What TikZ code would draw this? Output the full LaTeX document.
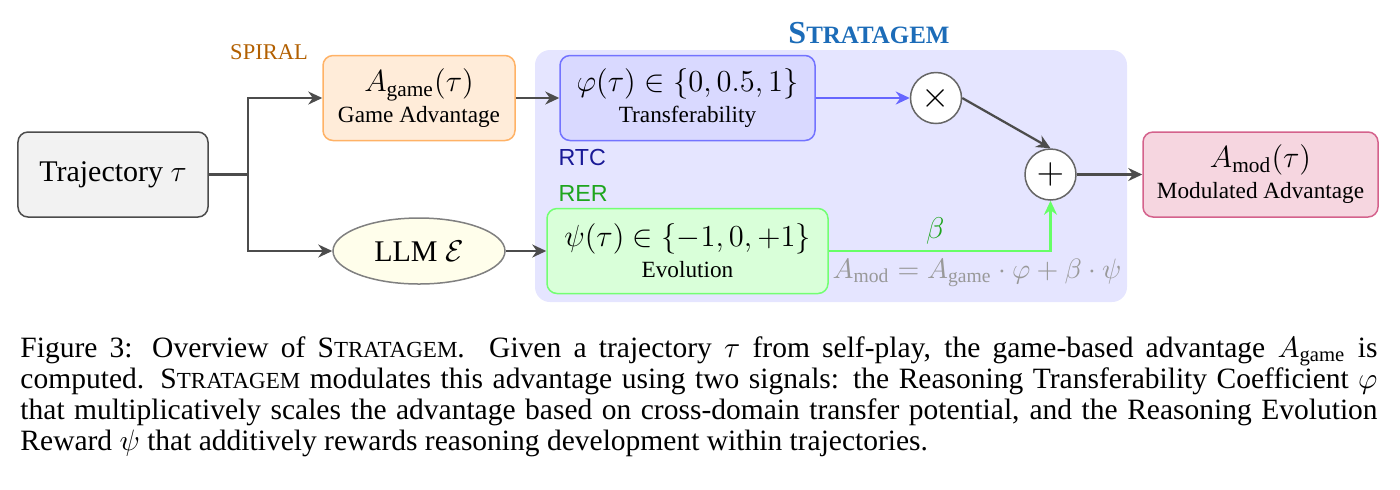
\RequirePackage{fix-cm}
\documentclass[tikz,border=0pt]{standalone}
\usepackage{amsmath,amssymb}
\usepackage[no-math]{fontspec}
\setmainfont{Liberation Serif}
\setsansfont{Liberation Sans}
\usepackage{xcolor}
\usetikzlibrary{positioning,arrows.meta,backgrounds,shapes.geometric}

\definecolor{spiralbrown}{RGB}{178,95,0}
\definecolor{stratblue}{RGB}{28,108,184}
\definecolor{rtcnavy}{RGB}{25,25,150}
\definecolor{rergreen}{RGB}{30,165,30}
\definecolor{modfill}{RGB}{246,214,224}
\definecolor{moddraw}{RGB}{212,98,140}

\newcommand{\strat}{S\scalebox{0.78}{TRATAGEM}}

\begin{document}
\begin{tikzpicture}[x=0.4pt, y=-0.4pt,
  box/.style={draw, rounded corners=4pt, line width=0.6pt, minimum height=34pt,
    align=center, inner sep=2pt, font=\fontsize{12.2}{12.4}\selectfont},
  op/.style={circle, draw=black!60, fill=white, line width=0.6pt, minimum size=20.4pt, inner sep=0pt,
    font=\fontsize{14.5}{16}\selectfont},
  flow/.style={-{Stealth[length=5.6pt,width=5.2pt]}, line width=0.9pt, draw=black!70},
  tag/.style={font=\sffamily\fontsize{9.3}{11}\selectfont, anchor=west, inner sep=0pt}]
  \useasboundingbox (0,0) rectangle (1400,489);

  \node[box, draw=black!70, fill=black!5, minimum width=76pt, font=\fontsize{12}{14}\selectfont] (traj) at (113,174.5) {Trajectory $\tau$};
  \node[box, draw=orange!60, fill=orange!15, minimum width=76.8pt] (game) at (419,98)
    {$A_{\text{game}}(\tau)$\\ \fontsize{9.3}{11}\selectfont Game Advantage};
  \node[ellipse, draw=black!50, fill=yellow!8, line width=0.6pt, minimum width=68.8pt, minimum height=26.4pt,
    font=\fontsize{12}{14}\selectfont] (llm) at (419,251) {LLM $\mathcal{E}$};
  \node[box, draw=blue!55, fill=blue!15, minimum width=102pt] (rtc) at (687.5,98)
    {$\varphi(\tau)\in\{0,0.5,1\}$\\ \fontsize{9.3}{11}\selectfont Transferability};
  \node[box, draw=green!55, fill=green!15, minimum width=112.4pt] (rer) at (687.5,251)
    {$\psi(\tau)\in\{-1,0,+1\}$\\ \fontsize{9.3}{11}\selectfont Evolution};
  \node[op] (mul) at (936,98) {$\times$};
  \node[op] (add) at (1050.5,174.5) {$+$};
  \node[box, draw=moddraw, fill=modfill, minimum width=94pt] (mod) at (1260.5,174.5)
    {$A_{\text{mod}}(\tau)$\\ \fontsize{9.3}{11}\selectfont Modulated Advantage};

  \node[text=spiralbrown, font=\fontsize{9}{11}\selectfont] (spiral) at (269,52) {SPIRAL};
  \node[text=stratblue, font=\bfseries\fontsize{12.8}{14}\selectfont] (title) at (869,33) {\strat};
  \node[tag, text=rtcnavy] (rtctag) at (558,157) {RTC};
  \node[tag, text=rergreen] (rertag) at (558,193) {RER};
  \node[text=black!40, font=\fontsize{11.2}{13}\selectfont] (rule) at (977,273)
    {$A_{\text{mod}} = A_{\text{game}}\cdot\varphi + \beta\cdot\psi$};

  % connectors
  \coordinate (fork) at (248,174.5);
  \draw[flow] (traj.east) -- (fork) |- (game.west);
  \draw[flow] (fork) |- (llm.west);
  \draw[flow] (game.east) -- (rtc.west);
  \draw[flow] (llm.east) -- (rer.west);
  \draw[flow, draw=blue!60] (rtc.east) -- (mul.west);
  \draw[flow] (mul.east) -- (add.north);
  \draw[flow, draw=green!60] (rer.east) -| (add.south)
    node[pos=0.24, above=-1pt, text=rergreen, font=\fontsize{12}{14}\selectfont] {$\beta$};
  \draw[flow] (add.east) -- (mod.west);

  \begin{scope}[on background layer]
    \node[fill=blue!10, rounded corners=6pt, minimum width=236.8pt, minimum height=100.8pt] (strat) at (831,176) {};
  \end{scope}

  \node[anchor=base west, inner sep=0pt, text width=542.8pt, align=justify,
    font=\fontsize{11.8}{12.4}\selectfont] (caption) at (20,357)
    {Figure 3: Overview of \strat. Given a trajectory $\tau$ from self-play, the game-based advantage $A_{\text{game}}$ is\linebreak
     computed. \strat{} modulates this advantage using two signals: the Reasoning Transferability Coefficient $\varphi$\linebreak
     that multiplicatively scales the advantage based on cross-domain transfer potential, and the Reasoning Evolution\linebreak
     Reward $\psi$ that additively rewards reasoning development within trajectories.};
\end{tikzpicture}
\end{document}
